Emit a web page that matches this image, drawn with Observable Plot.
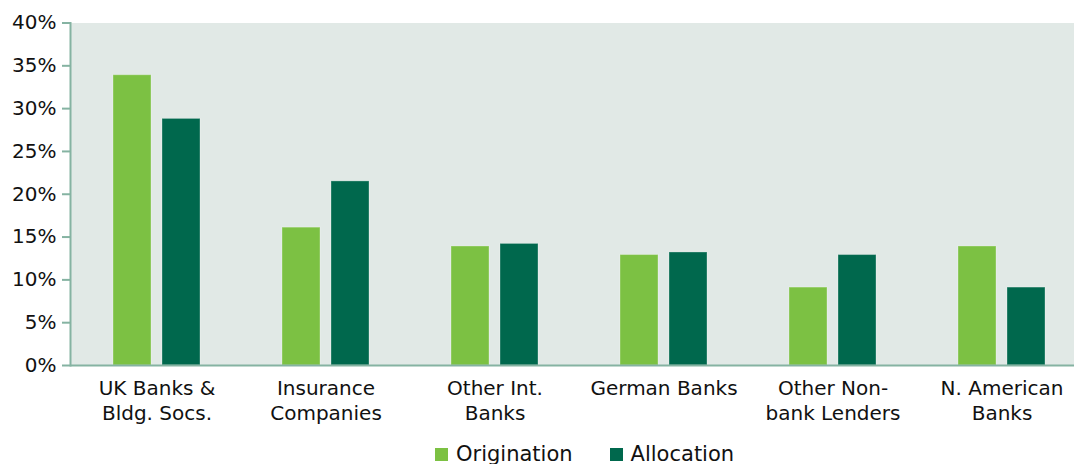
<!DOCTYPE html>
<html>
<head>
<meta charset="utf-8">
<script src="https://cdn.jsdelivr.net/npm/d3@7"></script>
<script src="https://cdn.jsdelivr.net/npm/@observablehq/plot@0.6"></script>
<style>
  html, body { margin: 0; padding: 0; background: #fff; }
  #chart { width: 1074px; }
  .legend { display: flex; align-items: center; height: 26px; padding-top: 3px; padding-left: 435px; font-family: "DejaVu Sans", sans-serif; font-size: 21px; color: #111; }
  .legend .item { display: flex; align-items: center; margin-right: 37px; }
  .legend .sw { width: 13px; height: 13px; margin-right: 8px; }
</style>
</head>
<body>
<div id="chart"></div>
<script>
const categories = ["UK Banks & Bldg. Socs.", "Insurance Companies", "Other Int. Banks", "German Banks", "Other Non-bank Lenders", "N. American Banks"];
const categoryLabels = ["UK Banks &\nBldg. Socs.", "Insurance\nCompanies", "Other Int.\nBanks", "German Banks", "Other Non-\nbank Lenders", "N. American\nBanks"];
const origination = [33.9, 16.1, 13.9, 12.9, 9.1, 13.9];
const allocation = [28.8, 21.5, 14.2, 13.2, 12.9, 9.1];
const seriesNames = ["Origination", "Allocation"];
const yTicks = [0, 5, 10, 15, 20, 25, 30, 35, 40];

const colors = {Origination: "#7cc143", Allocation: "#00684d"};
const axisColor = "#85b3a2";

const data = categories.map((c, i) => ({cat: c, orig: origination[i], alloc: allocation[i]}));
const labelOf = new Map(categories.map((c, i) => [c, categoryLabels[i]]));

const plot = Plot.plot({
  width: 1074,
  height: 438,
  marginLeft: 70,
  marginRight: 0,
  marginTop: 22.5,
  marginBottom: 73,
  style: {fontFamily: "DejaVu Sans, sans-serif", fontSize: "20px", color: "#111", background: "#fff"},
  x: {domain: categories, range: [70, 1088.5], paddingInner: 0.4867, paddingOuter: 0.2478},
  y: {domain: [0, 40], range: [365, 22.5]},
  marks: [
    Plot.frame({fill: "#e1e9e6", stroke: null}),
    Plot.barY(data, {x: "cat", y: "orig", fill: colors.Origination, insetRight: 49, stroke: "#fff", strokeOpacity: 0.3}),
    Plot.barY(data, {x: "cat", y: "alloc", fill: colors.Allocation, insetLeft: 49, stroke: "#fff", strokeOpacity: 0.3}),
    Plot.axisY({ticks: yTicks, tickFormat: d => d + "%", tickSize: 8, tickPadding: 6, stroke: axisColor, strokeWidth: 2, label: null, fontSize: 20}),
    Plot.frame({anchor: "left", stroke: axisColor, strokeWidth: 2}),
    Plot.ruleY([0], {stroke: axisColor, strokeWidth: 2}),
    Plot.axisX({tickSize: 0, tickPadding: 12, tickFormat: d => labelOf.get(d), lineHeight: 1.25, label: null, fontSize: 20})
  ]
});
document.getElementById("chart").appendChild(plot);

const legend = document.createElement("div");
legend.className = "legend";
for (const name of seriesNames) {
  const item = document.createElement("div");
  item.className = "item";
  const sw = document.createElement("span");
  sw.className = "sw";
  sw.style.background = colors[name];
  const t = document.createElement("span");
  t.textContent = name;
  item.append(sw, t);
  legend.append(item);
}
document.getElementById("chart").appendChild(legend);
</script>
</body>
</html>
